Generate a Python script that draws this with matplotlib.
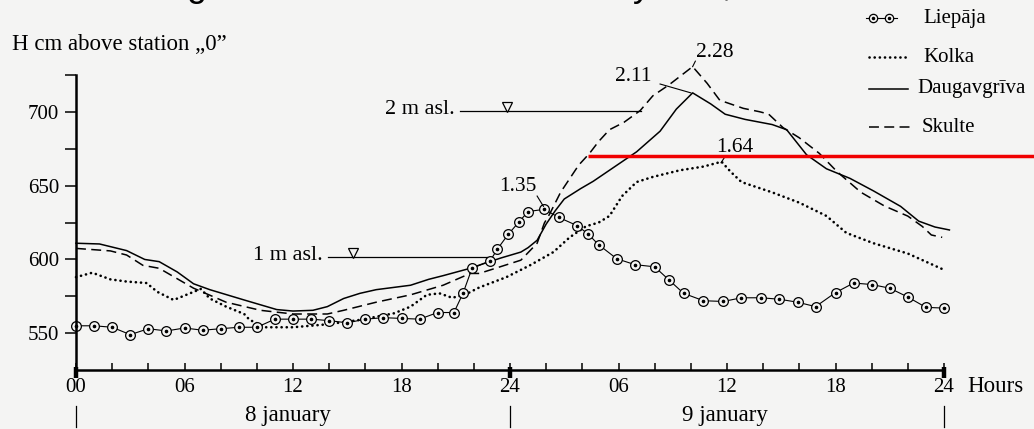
import matplotlib
matplotlib.use('Agg')
import matplotlib.pyplot as plt
from matplotlib.lines import Line2D

plt.rcParams['font.family'] = ['Liberation Serif', 'DejaVu Serif']

# ---------------- data ----------------
liepaja_h = [0, 1, 2, 3, 4, 5, 6, 7, 8, 9, 10, 11, 12, 13, 14, 15, 16, 17, 18, 19, 20, 20.9,
             21.4, 21.9, 22.9, 23.3, 23.9, 24.5, 25.0, 25.9, 26.7, 27.7, 28.3, 28.9, 29.9,
             30.9, 32.0, 32.8, 33.6, 34.7, 35.8, 36.8, 37.9, 38.9, 39.9, 40.9, 42.0, 43.0,
             44.0, 45.0, 46.0, 47.0, 48.0]
liepaja_v = [555, 555, 554, 549, 553, 551.5, 553.5, 552, 553, 554, 554, 559.5, 559.5, 559.5,
             558.5, 557, 559.5, 560.5, 560, 559.5, 564, 564,
             577, 594, 599, 607, 617, 625.5, 632.5, 634, 628.5, 623, 617.5, 610, 600.5,
             596.5, 595, 586, 577, 572, 571.5, 574, 574, 573, 571, 568, 577.5, 584,
             583, 580.5, 574.5, 567.5, 567]

kolka_h = [0, 0.9, 1.9, 2.8, 3.9, 4.5, 5.4, 6.1, 6.9, 7.4, 8.3, 9.3, 9.6, 10.5, 12.0, 13.9,
           15.7, 17.6, 18.5, 19.4, 20.1, 20.8, 21.5, 22.3, 23.8, 25.1, 26.4, 27.3, 28.2, 28.9,
           29.5, 30.2, 31.0, 31.9, 33.4, 34.7, 35.7, 36.2, 36.8, 38.5, 40.0, 41.5, 42.6,
           44.1, 46.0, 47.9]
kolka_v = [588, 591, 586.5, 585, 584, 578, 572.5, 576, 580, 573.5, 568, 563, 559, 554, 554, 556,
           559, 563.5, 568, 576, 577, 574, 576, 581, 588, 596, 605, 615, 622.5, 625,
           629.5, 643, 652.5, 656, 660.5, 663, 666.3, 659.5, 652.5, 645.5, 638.5, 629.5, 618,
           611, 604, 593.5]

daug_h = [0, 1.3, 2.8, 3.8, 4.6, 5.6, 6.5, 7.4, 9.3, 11.1, 12.0, 13.1, 13.9, 14.8, 15.7, 16.6,
          18.5, 19.5, 20.3, 21.8, 22.5, 23.5, 24.6, 25.0, 25.5, 26.0, 26.5, 27.0, 27.9, 28.6,
          29.5, 31.0, 32.3, 33.2, 34.1, 35.1, 35.9, 37.0, 38.5, 39.3, 40.4, 41.5, 42.8, 44.1,
          45.6, 46.6, 47.5, 48.3]
daug_v = [611, 610.5, 606, 600, 598.5, 591.5, 583.5, 579.5, 572.5, 566, 565, 565.5, 568, 573.5,
          577, 579.5, 582.5, 586.5, 589, 594, 597, 601, 605, 608, 613, 624, 633, 641, 648, 653,
          660.5, 673, 687, 702, 713, 705.5, 698.5, 695, 691.5, 688, 671, 661.5, 655, 646.5,
          636, 626, 622, 620]

skulte_h = [0, 1.9, 2.8, 3.7, 4.6, 6.5, 8.3, 10.2, 12.0, 13.9, 14.8, 16.6, 18.5, 20.3, 21.8,
            22.3, 24.6, 25.5, 25.9, 26.2, 26.8, 27.8, 28.4, 28.9, 29.5, 30.3, 31.2, 31.9, 32.8,
            34.1, 34.9, 35.6, 36.9, 37.8, 38.3, 39.1, 40.0, 41.1, 42.1, 43.4, 44.7, 46.0,
            46.8, 47.3, 47.9]
skulte_v = [607.5, 605.8, 603, 596, 594, 580.5, 571, 565.5, 563, 563, 565.5, 571, 576, 582.5,
            590.5, 590.5, 599.5, 611, 624.7, 631, 645.6, 664, 672, 680, 688, 693, 701, 711, 718.5,
            730.8, 719.5, 708, 702.5, 700.2, 698.6, 689.4, 682.5, 672, 659.4, 645.6, 636.3, 629.4,
            622.4, 616.6, 615]

series_names = ['Liepāja', 'Kolka', 'Daugavgrīva', 'Skulte']

x_major = [0, 6, 12, 18, 24, 30, 36, 42, 48]
x_labels = ['00', '06', '12', '18', '24', '06', '12', '18', '24']
x_minor = list(range(0, 49, 2))
day_marks = [0, 24, 48]
day_labels = ['8 january', '9 january']
day_label_pos = [11.7, 35.9]

y_major = [550, 600, 650, 700]
y_minor = [575, 625, 675, 725]

# reference levels: (label, value, line start, line end, triangle hour)
levels = [('2 m asl.', 701, 21.25, 31.25, 23.85),
          ('1 m asl.', 601.6, 13.95, 22.75, 15.3)]

# peak labels: (text, text hour, text value, leader from (h,v), leader to (h,v))
peaks = [('2.28', 35.3, 740.5, (34.25, 734.5), (34.1, 730.8)),
         ('2.11', 30.8, 723.8, (32.3, 719.0), (34.0, 713.0)),
         ('1.35', 24.45, 649.8, (25.5, 643.0), (25.85, 636.0)),
         ('1.64', 36.45, 676.2, (35.84, 668.8), (35.67, 665.6))]

red_line_h = [28.3, 53.0]
red_line_v = 670

# ---------------- figure ----------------
W, H = 1034, 429
BG = '#f4f4f3'
fig = plt.figure(figsize=(W / 100, H / 100), dpi=100, facecolor=BG)
ax = fig.add_axes([76 / W, 0.1375, 868 / W, 0.756])
ax.set_facecolor(BG)
ax.set_xlim(0, 48)
ax.set_ylim(525, 745)

for s in ['top', 'right']:
    ax.spines[s].set_visible(False)
ax.spines['left'].set_bounds(525, 725)
ax.spines['left'].set_linewidth(1.8)
ax.spines['bottom'].set_linewidth(1.8)

ax.set_xticks(x_major)
ax.set_xticklabels(x_labels)
ax.set_xticks(x_minor, minor=True)
ax.tick_params(axis='x', which='both', direction='in', length=5, width=1.1, pad=6,
               labelsize=15)
ax.set_yticks(y_major)
ax.set_yticks(y_minor, minor=True)
ax.tick_params(axis='y', which='both', direction='out', length=8, width=1.1, pad=4,
               labelsize=15)

# series
ax.plot(kolka_h, kolka_v, color='k', lw=1.9, ls=(0, (0.05, 1.9)), dash_capstyle='round',
        clip_on=False)
ax.plot(daug_h, daug_v, color='k', lw=1.1, clip_on=False)
ax.plot(skulte_h, skulte_v, color='k', lw=1.1, ls=(0, (6.5, 3.5)), clip_on=False)
ax.plot(liepaja_h, liepaja_v, color='k', lw=0.8, marker='o', ms=7, mfc=BG, mec='k',
        mew=0.9, clip_on=False)
ax.plot(liepaja_h, liepaja_v, ls='none', marker='o', ms=1.6, color='k', clip_on=False)

# level lines
for lab, val, h0, h1, ht in levels:
    ax.plot([h0, h1], [val, val], color='k', lw=0.9)
    ax.plot([ht], [val + 2.6], marker='v', ms=7, mfc=BG, mec='k', mew=0.9)
    ax.text(h0 - 0.3, val + 1, lab, ha='right', va='center', fontsize=16)

# peak labels
for txt, th, tv, p0, p1 in peaks:
    ax.text(th, tv, txt, ha='center', va='center', fontsize=15.5)
    ax.plot([p0[0], p1[0]], [p0[1], p1[1]], color='k', lw=0.8, clip_on=False)

# red line
ax.plot(red_line_h, [red_line_v, red_line_v], color='#f00000', lw=2.5, clip_on=False,
        solid_capstyle='butt')

# day marks and labels
xt = ax.get_xaxis_transform()
for d in day_marks:
    ax.plot([d, d], [-0.025, 0.008], transform=xt, color='k', lw=3.2, clip_on=False,
            solid_capstyle='butt')
    ax.plot([d, d], [-0.111, -0.176], transform=xt, color='k', lw=0.9, clip_on=False)
for lab, pos in zip(day_labels, day_label_pos):
    ax.text(pos, -0.139, lab, transform=xt, ha='center', va='center', fontsize=16.5)
ax.text(49.3, -0.05, 'Hours', transform=xt, ha='left', va='center', fontsize=16.5)

# y axis title
fig.text(12 / W, 1 - 50 / H, 'H cm above station \u201e0\u201d', ha='left', va='baseline',
         fontsize=16.5)

# legend (manual)
def fx(px):
    return px / W

def fy(py):
    return 1 - py / H

leg_y = [18, 57, 89, 127]
leg_text_x = [923, 923, 917, 922]
fig.add_artist(Line2D([fx(866), fx(897)], [fy(18), fy(18)], color='k', lw=0.8))
fig.add_artist(Line2D([fx(873), fx(889)], [fy(18), fy(18)], ls='none', marker='o', ms=6,
                      mfc=BG, mec='k', mew=0.9))
fig.add_artist(Line2D([fx(873), fx(889)], [fy(18), fy(18)], ls='none', marker='o', ms=1.5,
                      color='k'))
fig.add_artist(Line2D([fx(869), fx(908)], [fy(57), fy(57)], color='k', lw=1.9,
                      ls=(0, (0.05, 1.9)), dash_capstyle='round'))
fig.add_artist(Line2D([fx(869), fx(908)], [fy(89), fy(89)], color='k', lw=1.1))
fig.add_artist(Line2D([fx(869), fx(912)], [fy(127), fy(127)], color='k', lw=1.1,
                      ls=(0, (6.5, 3.5))))
for name, yy, xx in zip(series_names, leg_y, leg_text_x):
    fig.text(fx(xx), fy(yy), name, ha='left', va='center', fontsize=15)

# clipped title fragments at top edge
title_frag = [('g', 186), ('y', 633), (',', 722)]
for ch, xx in title_frag:
    fig.text(fx(xx), 1 + 4.5 / H, ch, ha='left', va='baseline', fontsize=26,
             family='Liberation Sans')

fig.savefig('out.png', dpi=100, facecolor=BG)
